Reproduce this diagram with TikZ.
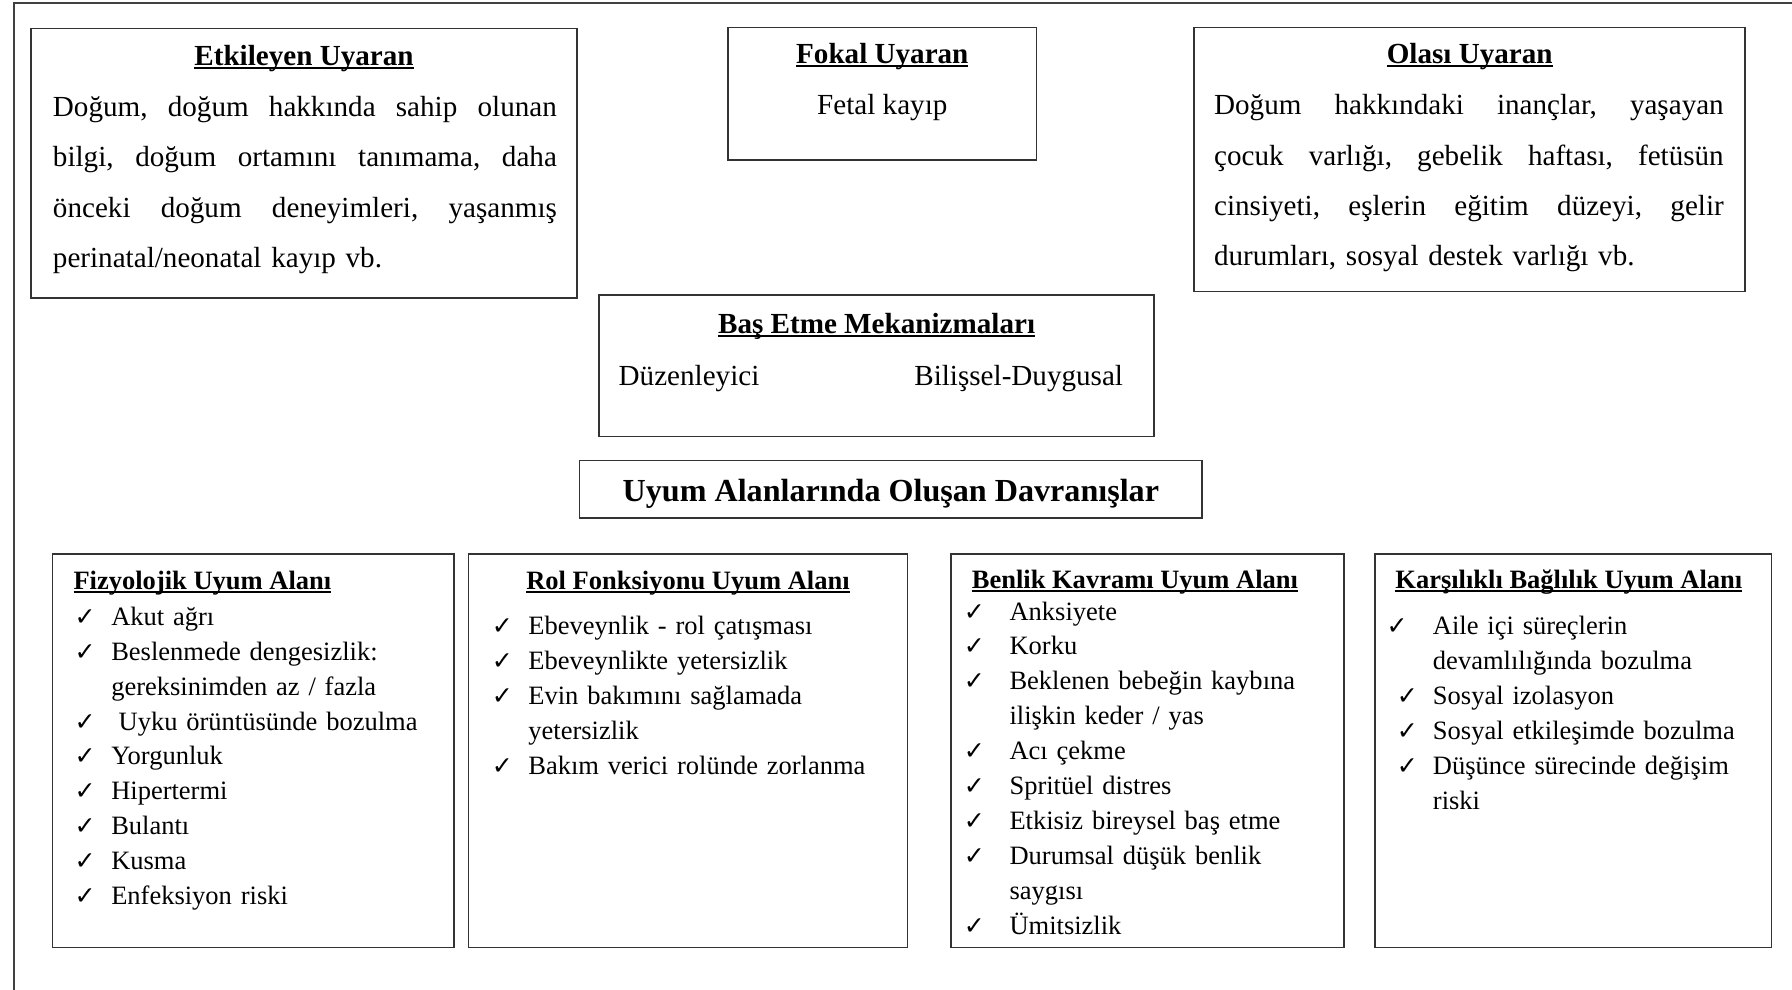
\documentclass[tikz,border=0pt]{standalone}
\usepackage{fontspec}
\setmainfont{Liberation Serif}
\newfontfamily\checkfont{DejaVu Sans}

\newcommand{\uln}[1]{\setbox0\hbox{#1}\rlap{\rule[-1.7pt]{\wd0}{0.9pt}}\box0}
\newcommand{\jline}[2]{\leavevmode{\frenchspacing\spaceskip=0.25em plus 3em\relax\hbox to #1{#2}}}
\newcommand{\chk}[1]{\makebox[#1][l]{\fontsize{12.5}{12.5}\checkfont ✓}}

\begin{document}
\begin{tikzpicture}
	[x=0.02cm,y=-0.02cm,line cap=rect,
	%Styles
	frame/.style={draw=black!75,line width=1pt},
	box/.style={draw=black!80,line width=0.8pt},
	toptext/.style={inner sep=0pt,font=\fontsize{14.5}{25.04}\selectfont},
	listtext/.style={inner sep=0pt,anchor=base west,align=left,text width=7cm,font=\fontsize{13.2}{17.41}\selectfont},
	listtitle/.style={inner sep=0pt,font=\fontsize{13.2}{17.41}\selectfont\bfseries}
	]
	\useasboundingbox (0,0) rectangle (1568,866);
	
	%Outer frame
	\draw[frame] (12,866) -- (12,3) -- (1568,3);
	
	%Boxes
	\draw[box] (27,25) rectangle (505,261);
	\draw[box] (637,24) rectangle (907,140);
	\draw[box] (1045,24) rectangle (1527,255);
	\draw[box] (524,258) rectangle (1010,382);
	\draw[box] (507,403) rectangle (1052,453);
	\draw[box] (46,485) rectangle (397,829);
	\draw[box] (410,485) rectangle (794,829);
	\draw[box] (832,485) rectangle (1176,829);
	\draw[box] (1203,485) rectangle (1550,829);
	
	%Stimuli
	\node[toptext,anchor=base] (etktitle) at (266,57) {\uln{\bfseries Etkileyen Uyaran}};
	\node[toptext,anchor=base west,text width=8.82cm,align=left] (etkbody) at (46,102)
		{\jline{8.82cm}{Doğum, doğum hakkında sahip olunan}\\
		 \jline{8.82cm}{bilgi, doğum ortamını tanımama, daha}\\
		 \jline{8.82cm}{önceki doğum deneyimleri, yaşanmış}\\
		 perinatal/neonatal kayıp vb.};
	
	\node[toptext,anchor=base] (foktitle) at (772,55.5) {\uln{\bfseries Fokal Uyaran}};
	\node[toptext,anchor=base] (fokbody) at (772,100.5) {Fetal kayıp};
	
	\node[toptext,anchor=base] (olatitle) at (1286,55.5) {\uln{\bfseries Olası Uyaran}};
	\node[toptext,anchor=base west,text width=8.92cm,align=left] (olabody) at (1062,100.5)
		{\jline{8.92cm}{Doğum hakkındaki inançlar, yaşayan}\\
		 \jline{8.92cm}{çocuk varlığı, gebelik haftası, fetüsün}\\
		 \jline{8.92cm}{cinsiyeti, eşlerin eğitim düzeyi, gelir}\\
		 durumları, sosyal destek varlığı vb.};
	
	%Coping
	\node[toptext,anchor=base] (bastitle) at (767,292) {\uln{\bfseries Baş Etme Mekanizmaları}};
	\node[toptext,anchor=base west] (duzen) at (541,337) {Düzenleyici};
	\node[toptext,anchor=base east] (bilis) at (983,337) {Bilişsel-Duygusal};
	
	\node[inner sep=0pt,anchor=base,font=\fontsize{16}{16}\selectfont\bfseries] (uyum) at (779.5,438.5)
		{Uyum Alanlarında Oluşan Davranışlar};
	
	%Adaptive modes
	\node[listtitle,anchor=base west] (fiztitle) at (64,516) {\uln{Fizyolojik Uyum Alanı}};
	\node[listtext] (fizlist) at (65,547)
		{\chk{0.64cm}Akut ağrı\\
		 \chk{0.64cm}Beslenmede dengesizlik:\\
		 \hspace*{0.64cm}gereksinimden az / fazla\\
		 \chk{0.64cm}\hspace*{0.13cm}Uyku örüntüsünde bozulma\\
		 \chk{0.64cm}Yorgunluk\\
		 \chk{0.64cm}Hipertermi\\
		 \chk{0.64cm}Bulantı\\
		 \chk{0.64cm}Kusma\\
		 \chk{0.64cm}Enfeksiyon riski};
	
	\node[listtitle,anchor=base] (roltitle) at (602,516) {\uln{Rol Fonksiyonu Uyum Alanı}};
	\node[listtext] (rollist) at (430,555.6)
		{\chk{0.64cm}Ebeveynlik - rol çatışması\\
		 \chk{0.64cm}Ebeveynlikte yetersizlik\\
		 \chk{0.64cm}Evin bakımını sağlamada\\
		 \hspace*{0.64cm}yetersizlik\\
		 \chk{0.64cm}Bakım verici rolünde zorlanma};
	
	\node[listtitle,anchor=base west] (bentitle) at (850,515) {\uln{Benlik Kavramı Uyum Alanı}};
	\node[listtext] (benlist) at (843,542.5)
		{\chk{0.8cm}Anksiyete\\
		 \chk{0.8cm}Korku\\
		 \chk{0.8cm}Beklenen bebeğin kaybına\\
		 \hspace*{0.8cm}ilişkin keder / yas\\
		 \chk{0.8cm}Acı çekme\\
		 \chk{0.8cm}Spritüel distres\\
		 \chk{0.8cm}Etkisiz bireysel baş etme\\
		 \chk{0.8cm}Durumsal düşük benlik\\
		 \hspace*{0.8cm}saygısı\\
		 \chk{0.8cm}Ümitsizlik};
	
	\node[listtitle,anchor=base west] (kartitle) at (1220.6,515) {\uln{Karşılıklı Bağlılık Uyum Alanı}};
	\node[listtext] (karlist) at (1213,555.6)
		{\chk{0.81cm}Aile içi süreçlerin\\
		 \hspace*{0.81cm}devamlılığında bozulma\\
		 \hspace*{0.18cm}\chk{0.63cm}Sosyal izolasyon\\
		 \hspace*{0.18cm}\chk{0.63cm}Sosyal etkileşimde bozulma\\
		 \hspace*{0.18cm}\chk{0.63cm}Düşünce sürecinde değişim\\
		 \hspace*{0.81cm}riski};
\end{tikzpicture}
\end{document}
